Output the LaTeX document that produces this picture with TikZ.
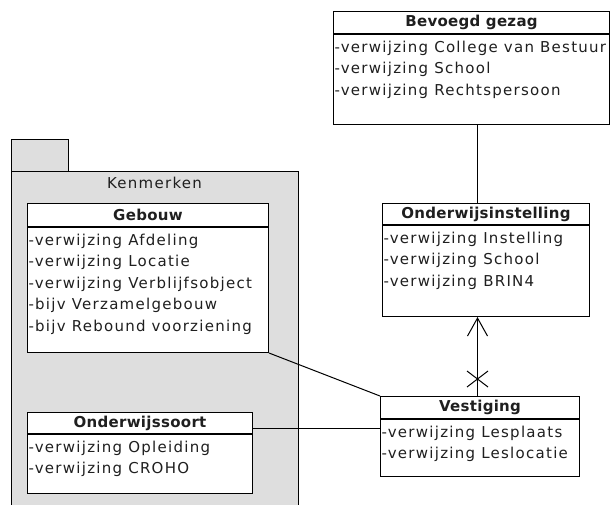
\documentclass[tikz,border=0pt]{standalone}
\usepackage{fontspec}
\newfontfamily\umlfont{DejaVu Sans}[LetterSpace=8.5]
\newfontfamily\umlbold{DejaVu Sans Bold}[LetterSpace=2]
\usetikzlibrary{positioning}
\usetikzlibrary{arrows.meta}
\usetikzlibrary{shapes.misc}
\definecolor{pkggray}{gray}{0.87}
\definecolor{umltext}{gray}{0.12}

\begin{document}
\begin{tikzpicture}[x=1pt, y=-1pt, line width=1pt,
    classhead/.style={draw, fill=white, anchor=north west, inner sep=0pt, text=umltext,
      font=\umlbold\fontsize{15}{17}\selectfont},
    classbox/.style={draw, fill=white, anchor=north west, inner sep=0pt},
    attrs/.style={anchor=north west, align=left, inner xsep=1pt, inner ysep=6.5pt, text=umltext,
      font=\umlfont\fontsize{15}{21.5}\selectfont},
    link/.style={draw=black}]
  \useasboundingbox (0,0) rectangle (610,504);

  % package Kenmerken
  \node[draw, fill=pkggray, anchor=north west, minimum width=57, minimum height=32] (tab) at (11,139) {};
  \node[draw, fill=pkggray, anchor=north west, minimum width=287, minimum height=345] (kenmerken) at (11,171) {};
  \node[text=umltext, font=\umlfont\fontsize{15}{17}\selectfont] (kenmerken-label) at (154.5,183) {Kenmerken};

  % Bevoegd gezag
  \node[classhead, minimum width=276, minimum height=22] (gezag) at (333,11) {Bevoegd gezag};
  \node[classbox, minimum width=276, minimum height=90] (gezag-box) at (gezag.south west) {};
  \node[attrs] (gezag-attr) at (gezag-box.north west) {-verwijzing College van Bestuur\\-verwijzing School\\-verwijzing Rechtspersoon};

  % Onderwijsinstelling
  \node[classhead, minimum width=207, minimum height=21] (inst) at (382,203) {Onderwijsinstelling};
  \node[classbox, minimum width=207, minimum height=91] (inst-box) at (inst.south west) {};
  \node[attrs] (inst-attr) at (inst-box.north west) {-verwijzing Instelling\\-verwijzing School\\-verwijzing BRIN4};

  % Gebouw
  \node[classhead, minimum width=241, minimum height=23] (gebouw) at (27,203) {Gebouw};
  \node[classbox, minimum width=241, minimum height=125] (gebouw-box) at (gebouw.south west) {};
  \node[attrs] (gebouw-attr) at (gebouw-box.north west) {-verwijzing Afdeling\\-verwijzing Locatie\\-verwijzing Verblijfsobject\\-bijv Verzamelgebouw\\-bijv Rebound voorziening};

  % Onderwijssoort
  \node[classhead, minimum width=225, minimum height=21] (soort) at (27,412) {Onderwijssoort};
  \node[classbox, minimum width=225, minimum height=59] (soort-box) at (soort.south west) {};
  \node[attrs] (soort-attr) at (soort-box.north west) {-verwijzing Opleiding\\-verwijzing CROHO};

  % Vestiging
  \node[classhead, minimum width=199, minimum height=22] (vest) at (380,396) {Vestiging};
  \node[classbox, minimum width=199, minimum height=57] (vest-box) at (vest.south west) {};
  \node[attrs] (vest-attr) at (vest-box.north west) {-verwijzing Lesplaats\\-verwijzing Leslocatie};

  % associaties
  \coordinate (spine) at ([xshift=-2.5pt]vest.north);
  \draw[link] (gezag-box.south -| spine) -- (inst.north -| spine);
  \draw[link, -{Straight Barb[length=18pt, width=20pt]}] (spine) -- (inst-box.south -| spine);
  \node[cross out, draw, minimum width=20, minimum height=15, inner sep=0pt] (nonnav) at ([yshift=17pt]spine) {};
  \draw[link] (gebouw-box.south east) -- (vest.north west);
  \coordinate (soort-link) at ([yshift=6pt]soort.south east);
  \draw[link] (soort-link) -- (soort-link -| vest-box.west);
\end{tikzpicture}
\end{document}
